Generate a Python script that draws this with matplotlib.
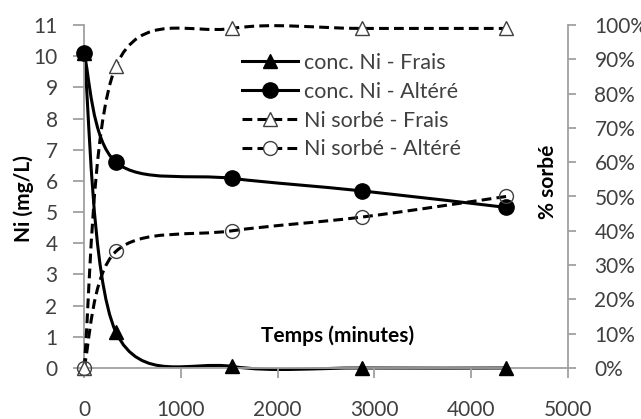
import numpy as np
import matplotlib.pyplot as plt
from matplotlib.path import Path
from matplotlib.patches import PathPatch
from matplotlib.lines import Line2D
from matplotlib.ticker import PercentFormatter

plt.rcParams['font.family'] = ['Lato', 'DejaVu Sans']

# data
temps = [0, 330, 1530, 2870, 4360]
conc_frais = [10.1, 1.15, 0.05, 0.0, 0.0]
conc_altere = [10.1, 6.6, 6.08, 5.68, 5.15]
sorbe_frais = [0, 88, 99, 99, 99]
sorbe_altere = [0, 34, 40, 44, 50]

x_ticks = [0, 1000, 2000, 3000, 4000, 5000]
y_ticks = list(range(0, 12))
pct_ticks = list(range(0, 101, 10))

GRAY = '#a0a0a0'
TXT = '#404040'
LW = 2.2
DASH = (0, (3.2, 1.7))


def smooth_path(x, y):
    '''Excel-like smoothed line: cubic bezier through the points'''
    pts = np.column_stack([x, y]).astype(float)
    n = len(pts)
    verts = [pts[0]]
    codes = [Path.MOVETO]
    for i in range(n - 1):
        p0 = pts[i - 1] if i > 0 else pts[i]
        p3 = pts[i + 2] if i + 2 < n else pts[i + 1]
        verts += [pts[i] + (pts[i + 1] - p0) / 6,
                  pts[i + 1] - (p3 - pts[i]) / 6,
                  pts[i + 1]]
        codes += [Path.CURVE4] * 3
    return Path(verts, codes)


fig = plt.figure(figsize=(6.41, 4.19), dpi=100)
ax = fig.add_axes([84 / 641, 1 - 368 / 419, 484 / 641, 343 / 419])
ax2 = ax.twinx()

ax.add_patch(PathPatch(smooth_path(temps, conc_frais), fill=False,
                       color='black', lw=LW, clip_on=False))
ax.add_patch(PathPatch(smooth_path(temps, conc_altere), fill=False,
                       color='black', lw=LW, clip_on=False))
ax.plot(temps, conc_frais, ls='none', marker='^', ms=10, color='black',
        zorder=5, clip_on=False)
ax.plot(temps, conc_altere, ls='none', marker='o', ms=11, color='black',
        zorder=5, clip_on=False)

ax2.add_patch(PathPatch(smooth_path(temps, sorbe_frais), fill=False,
                        color='black', lw=LW, linestyle=DASH, clip_on=False))
ax2.add_patch(PathPatch(smooth_path(temps, sorbe_altere), fill=False,
                        color='black', lw=LW, linestyle=DASH, clip_on=False))
ax2.plot(temps, sorbe_frais, ls='none', marker='^', ms=10, mfc='white',
         mec='#404040', mew=1, zorder=5, clip_on=False)
ax2.plot(temps, sorbe_altere, ls='none', marker='o', ms=10, mfc='none',
         mec='#404040', mew=1, zorder=5, clip_on=False)

ax.set_xlim(0, 5000)
ax.set_ylim(0, 11)
ax2.set_ylim(0, 100)
ax.set_xticks(x_ticks)
ax.set_yticks(y_ticks)
ax2.set_yticks(pct_ticks)
ax2.yaxis.set_major_formatter(PercentFormatter(decimals=0))

for a in (ax, ax2):
    a.patch.set_visible(False)
    a.spines['top'].set_visible(False)
    for s in ('left', 'right', 'bottom'):
        a.spines[s].set_color(GRAY)
        a.spines[s].set_linewidth(1.3)
ax.spines['right'].set_visible(False)
ax2.spines['left'].set_visible(False)
ax2.spines['bottom'].set_visible(False)

ax.tick_params(axis='x', direction='out', length=7, width=1.3, color=GRAY,
               pad=16, labelsize=15, labelcolor=TXT)
ax.tick_params(axis='y', direction='out', length=8, width=1.3, color=GRAY,
               pad=11, labelsize=15, labelcolor=TXT)
ax2.tick_params(axis='y', direction='out', length=6, width=1.3, color=GRAY,
                pad=13, labelsize=15, labelcolor=TXT)

fig.text(0.037, 0.527, 'Ni (mg/L)', rotation=90, ha='center', va='center',
         fontsize=15, fontweight='bold')
fig.text(0.855, 0.566, '% sorbé', rotation=90, ha='center', va='center',
         fontsize=15, fontweight='bold')
fig.text(0.526, 0.198, 'Temps (minutes)', ha='center', va='center',
         fontsize=15, fontweight='bold')

handles = [
    Line2D([], [], color='black', lw=LW, marker='^', ms=10),
    Line2D([], [], color='black', lw=LW, marker='o', ms=11),
    Line2D([], [], color='black', lw=LW, ls=DASH, marker='^', ms=10,
           mfc='white', mec='#404040', mew=1),
    Line2D([], [], color='black', lw=LW, ls=DASH, marker='o', ms=10,
           mfc='white', mec='#404040', mew=1),
]
labels = ['conc. Ni - Frais', 'conc. Ni - Altéré',
          'Ni sorbé - Frais', 'Ni sorbé - Altéré']
leg = ax2.legend(handles, labels, loc='upper left', frameon=False,
                 bbox_to_anchor=(242 / 641, 1 - 53 / 419),
                 bbox_transform=fig.transFigure, fontsize=15.5,
                 borderpad=0, borderaxespad=0, handlelength=2.6,
                 handletextpad=0.3, labelspacing=0.41)
for t in leg.get_texts():
    t.set_color(TXT)

fig.savefig('out.png', dpi=100)
